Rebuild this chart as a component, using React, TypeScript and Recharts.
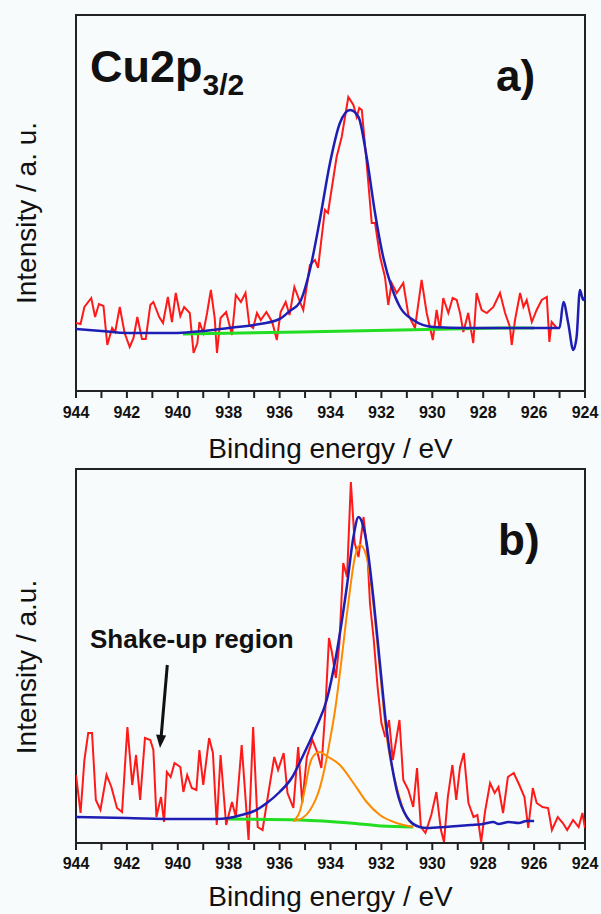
import { LineChart, Line, XAxis, YAxis, ReferenceArea } from "recharts";

type Pair = [number, number];

const FONT = '"Liberation Sans", Arial, sans-serif';
const FRAME = "#222";

const energyTicks = [944, 943, 942, 941, 940, 939, 938, 937, 936, 935, 934, 933, 932, 931, 930, 929, 928, 927, 926, 925, 924];

// panel a) — measured spectrum, envelope fit and background
const rawA: Pair[] = [
  [944.0, 68], [943.82, 67], [943.67, 84], [943.4, 93], [943.25, 74], [943.1, 87], [942.92, 85], [942.77, 46],
  [942.58, 63], [942.46, 59], [942.28, 84], [942.09, 58], [941.89, 44], [941.74, 53], [941.59, 74], [941.41, 52],
  [941.26, 52], [941.08, 86], [940.96, 89], [940.73, 74], [940.58, 68], [940.39, 94], [940.23, 69], [940.08, 98],
  [939.9, 75], [939.75, 84], [939.53, 78], [939.38, 38], [939.23, 48], [939.15, 69], [939.0, 58], [938.85, 78],
  [938.7, 101], [938.55, 73], [938.46, 38], [938.32, 73], [938.1, 79], [937.87, 56], [937.72, 96], [937.52, 89],
  [937.34, 98], [937.19, 66], [937.04, 63], [936.89, 78], [936.74, 71], [936.52, 79], [936.29, 69], [936.11, 51],
  [935.96, 79], [935.76, 89], [935.61, 76], [935.42, 104], [935.2, 89], [935.07, 81], [934.81, 126], [934.61, 131],
  [934.49, 123], [934.22, 181], [934.1, 178], [933.9, 211], [933.76, 234], [933.56, 254], [933.43, 274], [933.3, 294],
  [933.1, 286], [932.97, 274], [932.87, 283], [932.77, 281], [932.58, 228], [932.38, 168], [932.25, 168], [932.05, 134],
  [931.86, 114], [931.73, 86], [931.6, 108], [931.4, 98], [931.14, 108], [930.94, 76], [930.68, 63], [930.42, 111],
  [930.22, 78], [929.98, 51], [929.83, 81], [929.7, 61], [929.57, 93], [929.37, 78], [929.2, 93], [929.04, 91],
  [928.91, 78], [928.78, 59], [928.59, 78], [928.39, 48], [928.26, 98], [928.06, 81], [927.86, 78], [927.6, 84],
  [927.34, 98], [927.14, 78], [926.95, 64], [926.88, 46], [926.75, 71], [926.55, 98], [926.42, 84], [926.29, 91],
  [926.09, 69], [925.9, 81], [925.7, 91], [925.5, 94], [925.4, 49], [925.31, 69], [925.11, 63],
];

const fitA: Pair[] = [
  [944, 62], [943, 60], [942, 58], [941, 58], [940, 58], [939, 60], [938, 63], [937, 66], [936, 72], [935.6, 80],
  [935.2, 89], [934.81, 121], [934.42, 171], [934.02, 228], [933.63, 268], [933.23, 281], [932.9, 274], [932.58, 234],
  [932.25, 178], [931.93, 134], [931.6, 104], [931.27, 84], [930.75, 71], [929.96, 64], [928.66, 63], [925.0, 63],
  [924.85, 89], [924.66, 68], [924.46, 41], [924.33, 54], [924.2, 101], [924.07, 91], [924.0, 94],
];

const baseA: Pair[] = [[939.8, 57], [935.2, 59], [927.3, 63], [926, 63]];

// panel b) — measured spectrum, envelope, two components and background
const rawB: Pair[] = [
  [944.0, 68], [943.82, 30], [943.67, 83], [943.52, 110], [943.37, 110], [943.22, 43], [943.04, 33], [942.8, 68],
  [942.61, 56], [942.39, 35], [942.19, 31], [941.98, 116], [941.79, 58], [941.64, 88], [941.48, 43], [941.29, 105],
  [941.08, 103], [940.96, 93], [940.84, 26], [940.66, 46], [940.54, 21], [940.43, 71], [940.28, 66], [940.13, 80],
  [939.9, 76], [939.78, 51], [939.63, 68], [939.45, 55], [939.27, 53], [939.15, 93], [939.0, 58], [938.77, 105],
  [938.62, 90], [938.47, 18], [938.32, 88], [938.1, 18], [937.87, 41], [937.72, 26], [937.49, 98], [937.22, 3],
  [937.04, 116], [936.86, 16], [936.67, 13], [936.44, 50], [936.21, 86], [936.06, 73], [935.84, 90], [935.69, 50],
  [935.46, 35], [935.27, 96], [935.11, 40], [934.93, 86], [934.71, 103], [934.51, 90], [934.36, 75], [934.21, 130],
  [934.06, 205], [933.94, 190], [933.79, 165], [933.65, 200], [933.5, 280], [933.35, 266], [933.2, 361], [933.05, 300],
  [932.9, 286], [932.7, 326], [932.55, 290], [932.45, 240], [932.3, 203], [932.15, 156], [932.0, 120], [931.85, 106],
  [931.7, 123], [931.55, 83], [931.29, 123], [931.14, 63], [930.94, 53], [930.75, 36], [930.6, 75], [930.45, 16],
  [930.27, 10], [930.04, 28], [929.84, 51], [929.66, 13], [929.54, 1], [929.39, 46], [929.21, 78], [929.06, 43],
  [928.91, 76], [928.76, 90], [928.58, 40], [928.38, 26], [928.23, 28], [928.08, 1], [927.93, 31], [927.73, 60],
  [927.55, 50], [927.4, 56], [927.22, 30], [927.03, 66], [926.8, 70], [926.58, 58], [926.38, 46], [926.23, 15],
  [926.05, 55], [925.9, 40], [925.67, 36], [925.45, 35], [925.3, 13], [925.07, 26], [924.87, 20], [924.7, 13],
  [924.47, 23], [924.25, 16], [924.1, 30], [924.0, 15],
];

const fitB: Pair[] = [
  [944, 26], [942, 25], [940, 24], [938.5, 24], [938, 25], [937.5, 28], [937, 32], [936.5, 40], [936, 51], [935.5, 66],
  [935.2, 81], [934.9, 97], [934.54, 117], [934.15, 143], [933.76, 190], [933.36, 256], [933.1, 306], [932.9, 326],
  [932.75, 320], [932.58, 300], [932.32, 246], [932.06, 180], [931.79, 113], [931.4, 53], [931.0, 26], [930.5, 16],
  [930.2, 15], [929.5, 16], [929, 17], [928.5, 18], [928, 19], [927.6, 21], [927.4, 19], [927, 21], [926.6, 20],
  [926.3, 22], [926.0, 22],
];

const mainPeakB: Pair[] = [
  [935.47, 22], [935.1, 25], [934.8, 33], [934.41, 56], [934.22, 76], [934.02, 103], [933.82, 133], [933.63, 170],
  [933.3, 240], [933.04, 286], [932.84, 298], [932.58, 286], [932.32, 240], [932.06, 173], [931.79, 106], [931.6, 78],
  [931.4, 56], [931.05, 28], [930.75, 18],
];

const satPeakB: Pair[] = [
  [935.4, 23], [935.2, 32], [935.0, 55], [934.8, 80], [934.6, 89], [934.41, 91], [934.15, 87], [933.63, 78],
  [933.1, 60], [932.58, 41], [932.06, 28], [931.4, 20], [930.75, 16],
];

const baseB: Pair[] = [[938, 24], [935.2, 23], [933.23, 20], [932.0, 17], [930.75, 16]];

const pts = (pairs: Pair[]) => pairs.map(([x, y]) => ({ x, y }));

interface Series {
  name: string;
  data: Pair[];
  color: string;
  width: number;
  smooth: boolean;
}

interface PanelProps {
  top: number;
  height: number;
  plotTop: number;
  plotBottom: number;
  yMax: number;
  tickGap: number;
  titleGap: number;
  series: Series[];
}

function Panel({ top, height, plotTop, plotBottom, yMax, tickGap, titleGap, series }: PanelProps) {
  return (
    <div style={{ position: "absolute", left: 0, top }}>
      <LineChart
        width={601}
        height={height}
        margin={{ top: plotTop, right: 16, left: 16, bottom: height - plotBottom - 30 }}
      >
        <XAxis
          dataKey="x"
          type="number"
          domain={[924, 944]}
          reversed
          allowDataOverflow
          ticks={energyTicks}
          interval={0}
          tickFormatter={(v: number) => (v % 2 === 0 ? String(v) : "")}
          tickSize={7}
          tickMargin={tickGap}
          height={30}
          axisLine={{ stroke: FRAME, strokeWidth: 2 }}
          tickLine={{ stroke: FRAME, strokeWidth: 2 }}
          tick={{ fill: "#111", fontSize: 16, fontWeight: 700, fontFamily: FONT }}
          label={{
            value: "Binding energy / eV",
            position: "bottom",
            offset: titleGap,
            style: { fill: "#111", fontSize: 28, fontFamily: FONT },
          }}
        />
        <YAxis
          type="number"
          domain={[0, yMax]}
          allowDataOverflow
          width={60}
          tick={false}
          tickLine={false}
          axisLine={false}
        />
        <ReferenceArea
          x1={944}
          x2={924}
          y1={0}
          y2={yMax}
          fill="none"
          stroke={FRAME}
          strokeWidth={2}
          ifOverflow="visible"
        />
        {series.map((s) => (
          <Line
            key={s.name}
            data={pts(s.data)}
            dataKey="y"
            type={s.smooth ? "monotone" : "linear"}
            stroke={s.color}
            strokeWidth={s.width}
            dot={false}
            activeDot={false}
            isAnimationActive={false}
          />
        ))}
      </LineChart>
    </div>
  );
}

const RED = "#ff1a1a";
const BLUE = "#1e1eb4";
const GREEN = "#22dd22";
const ORANGE = "#ff8a00";

export default function App() {
  return (
    <div
      style={{
        position: "absolute",
        left: 0,
        top: 0,
        width: 601,
        height: 914,
        background: "#f8fbfb",
        overflow: "hidden",
      }}
    >
      <Panel
        top={0}
        height={466}
        plotTop={15}
        plotBottom={391}
        yMax={376}
        tickGap={9}
        titleGap={17}
        series={[
          { name: "rawA", data: rawA, color: RED, width: 2, smooth: false },
          { name: "baseA", data: baseA, color: GREEN, width: 3, smooth: false },
          { name: "fitA", data: fitA, color: BLUE, width: 2.5, smooth: true },
        ]}
      />
      <Panel
        top={466}
        height={448}
        plotTop={3}
        plotBottom={377}
        yMax={374}
        tickGap={8}
        titleGap={13}
        series={[
          { name: "rawB", data: rawB, color: RED, width: 2, smooth: false },
          { name: "baseB", data: baseB, color: GREEN, width: 3, smooth: true },
          { name: "satPeakB", data: satPeakB, color: ORANGE, width: 2, smooth: true },
          { name: "mainPeakB", data: mainPeakB, color: ORANGE, width: 2, smooth: true },
          { name: "fitB", data: fitB, color: BLUE, width: 2.5, smooth: true },
        ]}
      />
      <svg
        width={601}
        height={914}
        style={{ position: "absolute", left: 0, top: 0, pointerEvents: "none" }}
      >
        <text
          transform="translate(36,213) rotate(-90)"
          textAnchor="middle"
          fontFamily={FONT}
          fontSize={28}
          fill="#111"
        >
          Intensity / a. u.
        </text>
        <text
          transform="translate(36,667) rotate(-90)"
          textAnchor="middle"
          fontFamily={FONT}
          fontSize={28}
          fill="#111"
        >
          Intensity / a.u.
        </text>
        <text x={90} y={82} fontFamily={FONT} fontWeight={700} fontSize={45} fill="#111">
          Cu2p
          <tspan fontSize={30} dy={13}>3/2</tspan>
        </text>
        <text x={496} y={91} fontFamily={FONT} fontWeight={700} fontSize={44} fill="#111">
          a)
        </text>
        <text x={498} y={555} fontFamily={FONT} fontWeight={700} fontSize={44} fill="#111">
          b)
        </text>
        <text x={90} y={648} fontFamily={FONT} fontWeight={700} fontSize={26} fill="#111">
          Shake-up region
        </text>
        <line x1={167.3} y1={665} x2={161.2} y2={736} stroke="#111" strokeWidth={3} />
        <polygon points="160,748 166.1,735.4 156.1,734.6" fill="#111" />
      </svg>
    </div>
  );
}
